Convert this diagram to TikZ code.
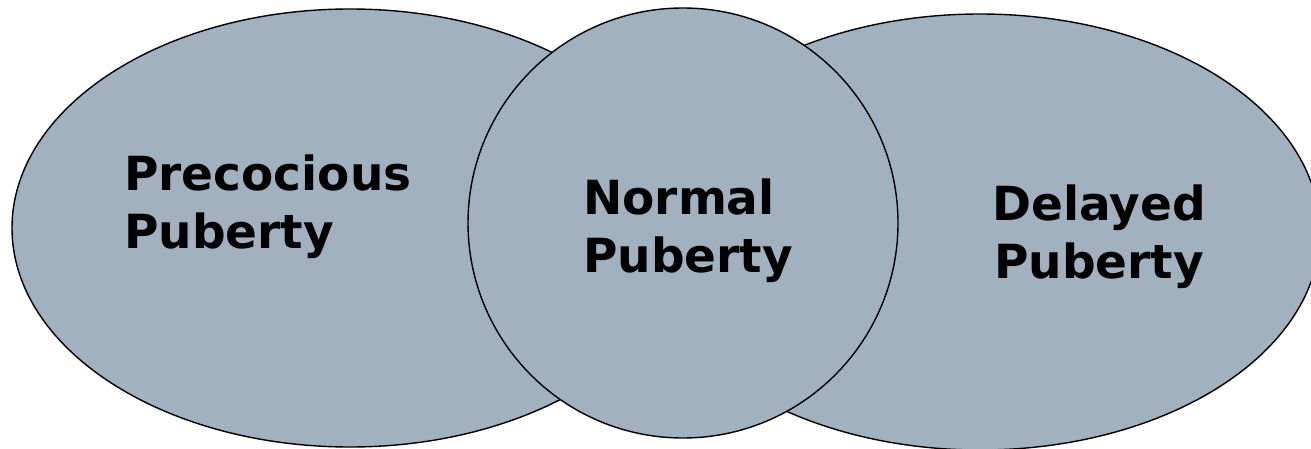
\documentclass[tikz,border=0pt]{standalone}
\usepackage{fontspec}
\setsansfont{DejaVu Sans}
\usepackage{tikz}
\usetikzlibrary{shapes.geometric}
\definecolor{slateblue}{HTML}{A2B1C0}

\begin{document}
\begin{tikzpicture}[x=1pt, y=-1pt,
    blob/.style={draw=black, line width=1.4pt, fill=slateblue, inner sep=0pt},
    lbl/.style={inner sep=0pt, font=\sffamily\bfseries\fontsize{47}{58}\selectfont}]
    \useasboundingbox (0,0) rectangle (1311,449);

    \node[blob, ellipse, minimum width=676pt, minimum height=438pt] (precocious) at (350,228) {};
    \node[blob, ellipse, minimum width=680pt, minimum height=436pt] (delayed) at (980,232) {};
    \node[blob, circle, minimum size=430pt] (normal) at (683,223) {};

    % base anchor sits on the last line
    \node[lbl, align=left, anchor=base west] (precociousText) at (124,248) {Precocious\\Puberty};
    \node[lbl, align=left, anchor=base west] (normalText) at (583,272) {Normal\\Puberty};
    \node[lbl, align=center, anchor=base] (delayedText) at (1099,278) {Delayed\\Puberty};
\end{tikzpicture}
\end{document}
